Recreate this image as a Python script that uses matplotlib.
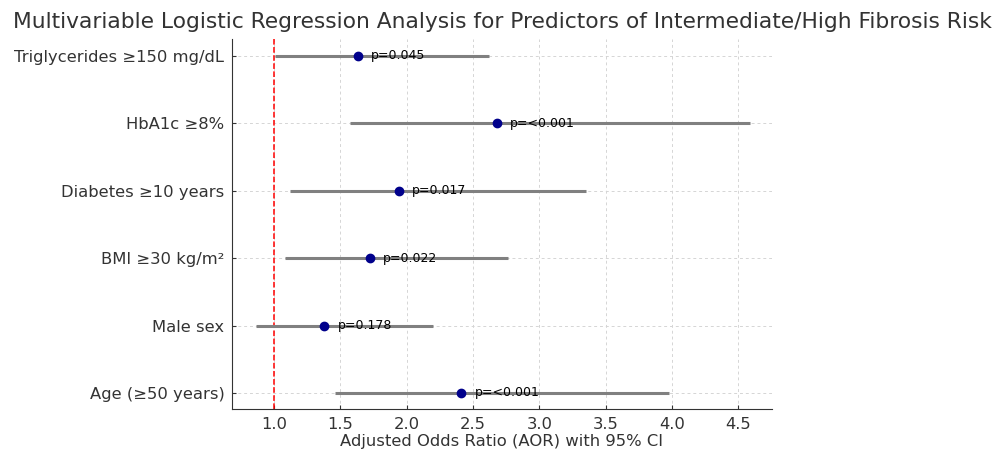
import matplotlib.pyplot as plt
import numpy as np

# predictors, bottom to top
labels = ["Age (≥50 years)", "Male sex", "BMI ≥30 kg/m²",
          "Diabetes ≥10 years", "HbA1c ≥8%", "Triglycerides ≥150 mg/dL"]
aor = [2.41, 1.38, 1.72, 1.94, 2.68, 1.63]
ci_low = [1.46, 0.86, 1.08, 1.12, 1.57, 1.01]
ci_high = [3.98, 2.20, 2.76, 3.35, 4.59, 2.62]
pvals = ["p=<0.001", "p=0.178", "p=0.022", "p=0.017", "p=<0.001", "p=0.045"]

txt = "#333333"
plt.rcParams['font.family'] = ['DejaVu Sans']

fig = plt.figure(figsize=(9.98, 4.5), dpi=100)
ax = fig.add_axes([0.2325, 0.091, 0.541, 0.822])

y = np.arange(len(labels))
ax.hlines(y, ci_low, ci_high, color="gray", linewidth=2.2, zorder=2)
ax.plot(aor, y, "o", color="darkblue", markersize=6, zorder=3)
ax.axvline(1.0, color="red", linestyle="--", linewidth=1.1, zorder=1)

for yi, a, p in zip(y, aor, pvals):
    ax.text(a + 0.1, yi, p, va="center", ha="left", fontsize=9, color="black", zorder=4)

ax.set_yticks(y)
ax.set_yticklabels(labels, fontsize=11.8, color=txt)
ax.set_xticks(np.arange(1.0, 4.6, 0.5))
ax.tick_params(axis="x", labelsize=11.8, colors=txt, direction="in", length=3, pad=6)
ax.tick_params(axis="y", colors=txt, direction="in", length=3, pad=5.5)
ax.set_xlim(0.683, 4.753)
ax.set_ylim(-0.24, 5.25)
ax.set_xlabel("Adjusted Odds Ratio (AOR) with 95% CI", fontsize=11.8, color=txt, labelpad=1.5)
ax.set_title("Multivariable Logistic Regression Analysis for Predictors of Intermediate/High Fibrosis Risk",
             fontsize=15.7, color=txt, pad=8)

ax.grid(True, linestyle=(0, (3, 3)), color="#d5d5d5", linewidth=0.7, zorder=0)
ax.set_axisbelow(True)
ax.spines["top"].set_visible(False)
ax.spines["right"].set_visible(False)
ax.spines["left"].set_color(txt)
ax.spines["bottom"].set_color(txt)

fig.savefig("out.png", dpi=100)
